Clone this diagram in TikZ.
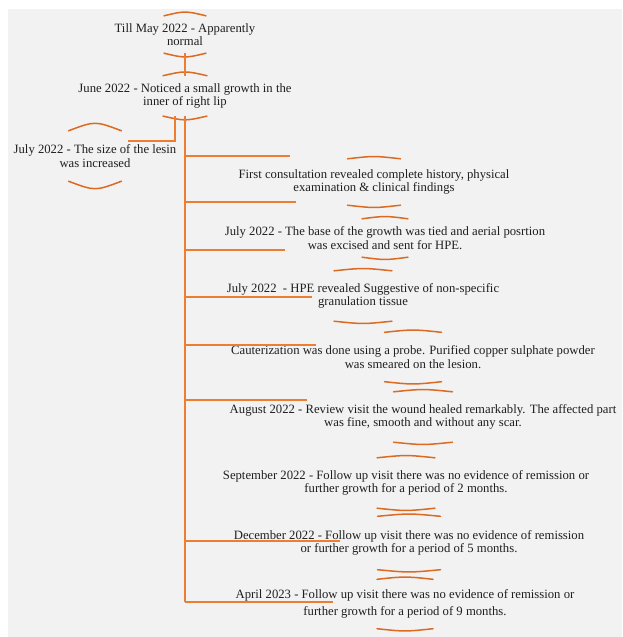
\documentclass[tikz,border=0pt]{standalone}
\usepackage{fontspec}
\setmainfont{Liberation Serif}
\usepackage{tikz}
\usetikzlibrary{positioning}
\usetikzlibrary{calc}
\definecolor{bggray}{HTML}{F2F2F2}
\definecolor{linkorange}{HTML}{ED7D31}
\definecolor{lidorange}{HTML}{DC6A22}
\tikzset{
    % connector style
    link/.style={
           draw=linkorange,
           line width=1.6pt},
    % curved lids above and below each event
    lid/.style={
           draw=lidorange,
           line width=1.5pt,
           line cap=round}
}
\newcommand{\evtfont}{\fontsize{12.7}{13.5}\selectfont}
% lids: node, half width, sag
\newcommand{\lids}[3]{%
  \draw[lid] ([xshift=-#2pt]#1.north) .. controls ([yshift={2*#3pt}]#1.north) .. ([xshift=#2pt]#1.north);
  \draw[lid] ([xshift=-#2pt]#1.south) .. controls ([yshift={-2*#3pt}]#1.south) .. ([xshift=#2pt]#1.south);
}

\begin{document}
\begin{tikzpicture}[x=1pt, y=-1pt]
\tikzstyle{evt}=[ rectangle,
                  align=center,
                  inner sep=0pt,
                  font=\evtfont,
                  text=black!88]

\useasboundingbox (0,0) rectangle (622,637);
\fill[bggray] (8,9) rectangle (622,637);

\node[evt, minimum height=37pt] (tm) at (185,34.5) {Till May 2022 - Apparently\\normal};
\node[evt, minimum height=40pt] (jn) [below = 22.5pt of tm] {June 2022 - Noticed a small growth in the\\inner of right lip};
\node[evt, minimum height=50pt] (ls) at (95,156) {July 2022 - The size of the lesin\\was increased};

\node[evt, minimum height=46pt] (fc) at (374,182) {First consultation revealed complete history, physical\\examination \& clinical findings};
\node[evt, minimum height=38pt] (bs) at (385,238) {July 2022 - The base of the growth was tied and aerial posrtion\\was excised and sent for HPE.};
\node[evt, minimum height=50pt] (hp) at (363,296) {July 2022 \ - HPE revealed Suggestive of non-specific\\granulation tissue};
\node[evt, minimum height=49pt] (ct) at (413,357) {Cauterization was done using a probe. Purified copper sulphate powder\\was smeared on the lesion.};
\node[evt, minimum height=50pt] (au) at (423,417) {August 2022 - Review visit the wound healed remarkably. The affected part\\was fine, smooth and without any scar.};
\node[evt, minimum height=50pt] (sp) at (406,483) {September 2022 - Follow up visit there was no evidence of remission or\\further growth for a period of 2 months.};
\node[evt, minimum height=53pt] (dc) at (409,543) {December 2022 - Follow up visit there was no evidence of remission\\or further growth for a period of 5 months.};
\node[evt, minimum height=49pt, font=\fontsize{12.7}{17}\selectfont] (ap) at (405,604) {April 2023 - Follow up visit there was no evidence of remission or\\further growth for a period of 9 months.};

\lids{tm}{21}{2.5}
\lids{jn}{22}{2.5}
\lids{ls}{26.5}{5}
\lids{fc}{26.5}{1.5}
\lids{bs}{23}{1.5}
\lids{hp}{29}{1.5}
\lids{ct}{28.5}{1.5}
\lids{au}{29.5}{1.5}
\lids{sp}{29}{1.5}
\lids{dc}{31.5}{1.5}
\lids{ap}{28}{1.5}

\path[link] (tm.south) -- (jn.south |- jn.north);

\coordinate (lsend) at (128,141);
\path[link] ([xshift=-10pt]jn.south) |- (lsend);

% trunk and branches
\foreach \yb/\xe [count=\i] in {156/290, 202/296, 250/285, 297/312, 345/316, 400/307, 541/340, 602/333} {
  \coordinate (b\i) at (185,\yb);
  \coordinate (e\i) at (\xe,\yb);
  \path[link] (b\i) -- (e\i);
}
\path[link] (jn.south) -- (b8);

\end{tikzpicture}
\end{document}
